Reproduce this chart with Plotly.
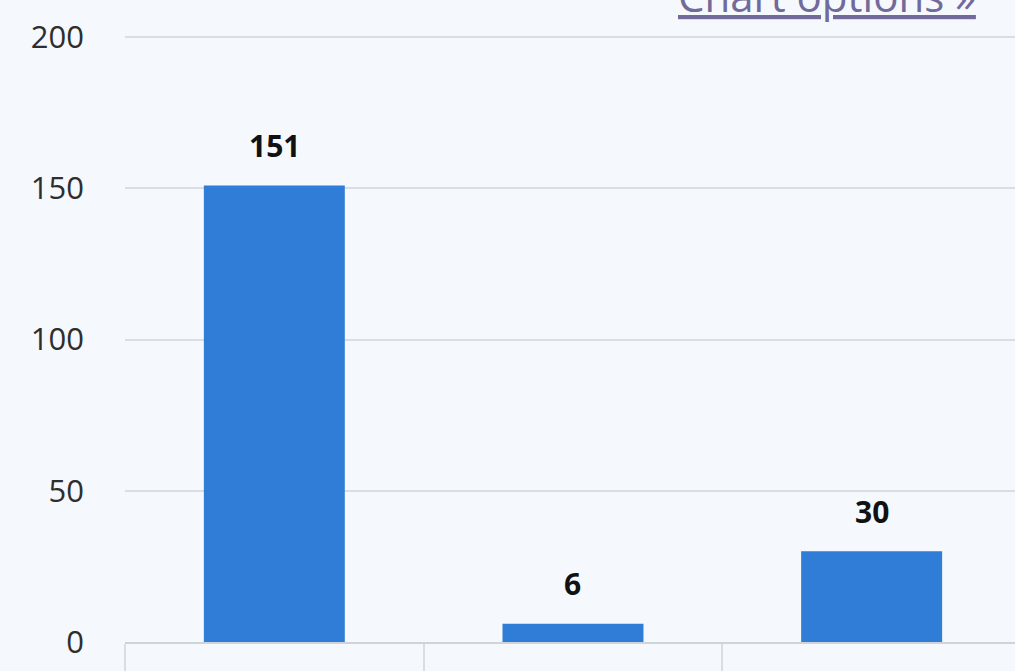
import plotly.graph_objects as go

categories = ["Category A", "Category B", "Category C"]
values = [151, 6, 30]
y_ticks = [0, 50, 100, 150, 200]

BG = "#f5f8fc"
BAR = "#2f7dd6"
GRID = "#d9dee4"

fig = go.Figure(
    go.Bar(
        x=categories,
        y=values,
        width=0.472,
        marker=dict(color=BAR, line=dict(width=0)),
        hoverinfo="x+y",
    )
)

# value labels above the bars
for c, v in zip(categories, values):
    fig.add_annotation(
        x=c,
        y=v,
        xref="x",
        yref="y",
        text=str(v),
        showarrow=False,
        yanchor="middle",
        yshift=40,
        font=dict(family="Open Sans", size=30, color="#111111", weight="bold"),
    )

fig.add_annotation(
    text="<u>Chart options »</u>",
    xref="paper",
    yref="paper",
    x=(978 - 125) / 890,
    y=1.016,
    xanchor="right",
    yanchor="bottom",
    showarrow=False,
    font=dict(family="Open Sans", size=42, color="#716a9a"),
)

fig.update_layout(
    width=1015,
    height=671,
    margin=dict(l=125, r=0, t=36, b=29, autoexpand=False),
    paper_bgcolor=BG,
    plot_bgcolor=BG,
    showlegend=False,
    xaxis=dict(
        range=[-0.5, 2.48],
        showticklabels=False,
        automargin=False,
        tickson="boundaries",
        ticks="outside",
        ticklen=29,
        tickcolor=GRID,
        tickwidth=1.5,
        showline=True,
        linecolor="#cfd4da",
        linewidth=2,
        showgrid=False,
        zeroline=False,
    ),
    yaxis=dict(
        range=[0, 200.4],
        automargin=False,
        tickvals=y_ticks,
        ticktext=[str(t) for t in y_ticks],
        showgrid=True,
        gridcolor=GRID,
        gridwidth=2,
        zeroline=False,
        showline=False,
        ticks="",
        ticklabelstandoff=40,
        tickfont=dict(family="Open Sans", size=31, color="#2e2e2e"),
    ),
)

fig.write_html(
    "out.html",
    config={"displayModeBar": False},
    post_script=(
        "document.body.style.margin='0';"
        "document.body.style.overflow='hidden';"
        "document.body.style.background='%s';" % BG
    ),
)
